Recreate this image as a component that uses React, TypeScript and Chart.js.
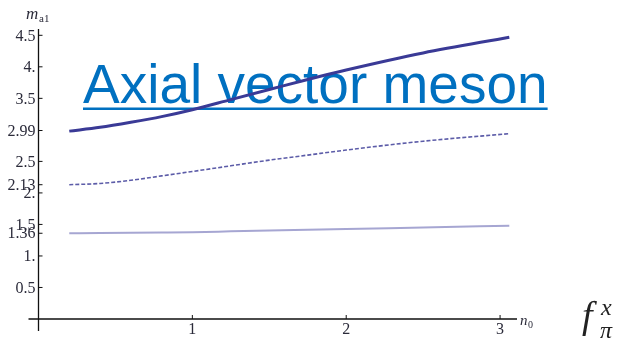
import React, { useEffect, useRef } from "react";
import { Chart, registerables } from "chart.js";

Chart.register(...registerables);

const n0Values = [0.2, 0.4, 0.6, 0.8, 1.0, 1.25, 1.5, 1.75, 2.0, 2.5, 3.06];
const upperSeries = [2.98, 3.04, 3.12, 3.21, 3.32, 3.48, 3.64, 3.8, 3.95, 4.22, 4.47];
const middleSeries = [2.13, 2.15, 2.2, 2.27, 2.34, 2.43, 2.52, 2.6, 2.68, 2.82, 2.94];
const lowerSeries = [1.36, 1.363, 1.367, 1.372, 1.378, 1.39, 1.402, 1.415, 1.428, 1.452, 1.48];

const yTickValues = [0.5, 1, 1.36, 1.5, 2, 2.13, 2.5, 2.99, 3.5, 4, 4.5];
const yTickLabels = ["0.5", "1.", "1.36", "1.5", "2.", "2.13", "2.5", "2.99", "3.5", "4.", "4.5"];
const xTickValues = [1, 2, 3];
const xTickLabels = ["1", "2", "3"];

const titleText = "Axial vector meson";

const overlayPlugin = {
  id: "overlay",
  beforeDatasetsDraw(chart: any) {
    const ctx = chart.ctx;
    const xs = chart.scales.x;
    const ys = chart.scales.y;
    const x0 = xs.getPixelForValue(0);
    const y0 = ys.getPixelForValue(0);
    const xEnd = xs.right;
    const yTop = ys.top;
    ctx.save();
    // axes
    ctx.strokeStyle = "#111";
    ctx.lineWidth = 1.3;
    ctx.beginPath();
    ctx.moveTo(x0 - 10, y0);
    ctx.lineTo(xEnd, y0);
    ctx.moveTo(x0, yTop);
    ctx.lineTo(x0, y0 + 12);
    ctx.stroke();
    // ticks
    ctx.lineWidth = 1;
    ctx.beginPath();
    yTickValues.forEach((v) => {
      const py = ys.getPixelForValue(v);
      ctx.moveTo(x0, py);
      ctx.lineTo(x0 + 4, py);
    });
    xTickValues.forEach((v) => {
      const px = xs.getPixelForValue(v);
      ctx.moveTo(px, y0);
      ctx.lineTo(px, y0 - 4);
    });
    ctx.stroke();
    // tick labels
    ctx.fillStyle = "#2b2b3a";
    ctx.font = '16px "Liberation Serif", serif';
    ctx.textAlign = "right";
    ctx.textBaseline = "middle";
    yTickValues.forEach((v, i) => {
      const py = ys.getPixelForValue(v);
      ctx.fillText(yTickLabels[i], x0 - 3, py + 1);
    });
    ctx.textAlign = "center";
    ctx.textBaseline = "top";
    xTickValues.forEach((v, i) => {
      const px = xs.getPixelForValue(v);
      ctx.fillText(xTickLabels[i], px, y0 + 3);
    });
    // axis labels
    ctx.textAlign = "left";
    ctx.textBaseline = "alphabetic";
    ctx.font = 'italic 17px "Liberation Serif", serif';
    ctx.fillText("m", 26, 19);
    ctx.font = '11px "Liberation Serif", serif';
    ctx.fillText("a1", 39, 22);
    ctx.font = 'italic 15px "Liberation Serif", serif';
    ctx.fillText("n", 520, 325);
    ctx.font = '10px "Liberation Serif", serif';
    ctx.fillText("0", 528, 328);
    // f_pi^x
    ctx.fillStyle = "#222";
    ctx.font = 'italic 38px "Liberation Serif", serif';
    ctx.fillText("f", 582, 328);
    ctx.font = 'italic 24px "Liberation Serif", serif';
    ctx.fillText("x", 601, 315);
    ctx.fillText("\u03c0", 600, 338);
    // title
    ctx.fillStyle = "#0070C0";
    ctx.font = '55px "Liberation Sans", Arial, sans-serif';
    ctx.textAlign = "left";
    ctx.textBaseline = "alphabetic";
    ctx.fillText(titleText, 83, 103);
    const w = ctx.measureText(titleText).width;
    ctx.fillRect(83, 107.5, w, 2.5);
    ctx.restore();
  },
};

export default function App() {
  const ref = useRef<HTMLCanvasElement>(null);
  useEffect(() => {
    document.body.style.margin = "0";
    const toPts = (ys: number[]) => n0Values.map((x, i) => ({ x, y: ys[i] }));
    const chart = new Chart(ref.current!, {
      type: "line",
      data: {
        datasets: [
          {
            data: toPts(upperSeries),
            borderColor: "#3a3a96",
            borderWidth: 3,
            pointRadius: 0,
            cubicInterpolationMode: "monotone",
          },
          {
            data: toPts(middleSeries),
            borderColor: "#5c5ca8",
            borderWidth: 1.6,
            borderDash: [4, 2],
            pointRadius: 0,
            cubicInterpolationMode: "monotone",
          },
          {
            data: toPts(lowerSeries),
            borderColor: "#a6a6d2",
            borderWidth: 2,
            pointRadius: 0,
            cubicInterpolationMode: "monotone",
          },
        ],
      },
      options: {
        animation: false,
        responsive: false,
        maintainAspectRatio: false,
        layout: { padding: { left: 38.5, right: 106, top: 29, bottom: 24 } },
        plugins: { legend: { display: false }, tooltip: { enabled: false } },
        scales: {
          x: { type: "linear", min: 0, max: 3.11, display: false },
          y: { type: "linear", min: 0, max: 4.6, display: false },
        },
      },
      plugins: [overlayPlugin],
    });
    return () => chart.destroy();
  }, []);
  return (
    <div style={{ position: "fixed", left: 0, top: 0, width: 623, height: 343, background: "#fff" }}>
      <canvas ref={ref} width={623} height={343} style={{ width: 623, height: 343 }} />
    </div>
  );
}
